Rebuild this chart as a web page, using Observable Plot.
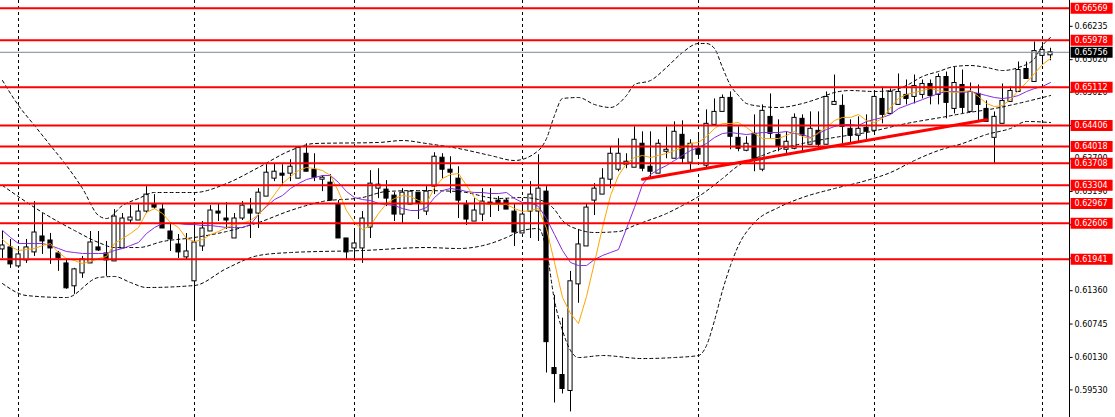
<!DOCTYPE html>
<html><head><meta charset="utf-8">
<script src="https://cdn.jsdelivr.net/npm/d3@7"></script>
<script src="https://cdn.jsdelivr.net/npm/@observablehq/plot@0.6"></script>
<style>html,body{margin:0;padding:0;background:#fff}#chart svg{display:block}</style>
</head><body><div id="chart"></div>
<script>
const opens = [0.62121,0.62158,0.61808,0.61919,0.62066,0.62360,0.62286,0.62047,0.61863,0.61441,0.61680,0.61863,0.62158,0.62047,0.61900,0.62139,0.62654,0.62654,0.62819,0.62948,0.62856,0.62452,0.62213,0.61974,0.61533,0.62176,0.62452,0.62819,0.62691,0.62323,0.62691,0.62856,0.62782,0.63095,0.63426,0.63518,0.63518,0.63426,0.63885,0.63591,0.63407,0.63352,0.62948,0.62323,0.62139,0.62139,0.62525,0.63242,0.63224,0.63113,0.62764,0.62948,0.63168,0.62819,0.63279,0.63812,0.63591,0.63426,0.62948,0.62635,0.62764,0.62985,0.63021,0.63021,0.62819,0.62415,0.62819,0.62819,0.63187,0.59934,0.59805,0.59511,0.61477,0.62176,0.63021,0.63132,0.63407,0.63591,0.63683,0.63628,0.64069,0.63646,0.63518,0.63922,0.63793,0.64234,0.63720,0.63977,0.63665,0.64418,0.64657,0.64915,0.64179,0.63940,0.64253,0.63591,0.64565,0.64234,0.63959,0.63977,0.64529,0.64051,0.64308,0.64051,0.64786,0.64768,0.64345,0.64216,0.64363,0.64308,0.64896,0.64620,0.64786,0.64970,0.64933,0.64970,0.65172,0.64970,0.65300,0.64712,0.65153,0.64657,0.64988,0.64712,0.64179,0.64437,0.64841,0.65025,0.65448,0.65209,0.65690,0.65700];
const highs = [0.62452,0.62305,0.62139,0.62305,0.63003,0.62782,0.62415,0.62084,0.61937,0.61772,0.61992,0.62452,0.62452,0.62268,0.62856,0.62782,0.62929,0.62948,0.63279,0.63132,0.62948,0.62580,0.62396,0.62415,0.62580,0.62635,0.62929,0.62966,0.62985,0.62782,0.63003,0.63058,0.63242,0.63683,0.63701,0.63683,0.63775,0.64014,0.64069,0.63885,0.63481,0.63499,0.63021,0.62323,0.62507,0.62819,0.63573,0.63609,0.63389,0.63168,0.63242,0.63205,0.63168,0.63279,0.63904,0.63885,0.63830,0.63646,0.63021,0.63058,0.63242,0.63242,0.63095,0.63058,0.62948,0.62966,0.63371,0.63867,0.63279,0.61275,0.60853,0.61716,0.62488,0.62966,0.63334,0.63609,0.64014,0.64161,0.63885,0.64381,0.64290,0.64290,0.64143,0.64381,0.64473,0.64492,0.64143,0.64234,0.64694,0.64896,0.64970,0.65025,0.64381,0.64198,0.64602,0.64786,0.64988,0.64510,0.64290,0.64620,0.64602,0.64657,0.64657,0.65025,0.65337,0.64970,0.64510,0.64565,0.64602,0.65025,0.65117,0.65080,0.65356,0.65245,0.65337,0.65245,0.65245,0.65356,0.65392,0.65484,0.65429,0.65190,0.65153,0.64860,0.64657,0.65172,0.65117,0.65576,0.65576,0.65944,0.65900,0.65830];
const lows = [0.61955,0.61772,0.61772,0.61863,0.61992,0.62029,0.61845,0.61716,0.61386,0.61294,0.61588,0.61863,0.62084,0.61624,0.61900,0.62139,0.62580,0.62654,0.62782,0.62856,0.62507,0.62084,0.61955,0.61937,0.60834,0.62084,0.62452,0.62635,0.62488,0.62323,0.62654,0.62323,0.62507,0.63095,0.63371,0.63279,0.63371,0.63426,0.63554,0.63371,0.63187,0.63021,0.62323,0.61919,0.61900,0.61863,0.62323,0.63058,0.62911,0.62635,0.62580,0.62948,0.62672,0.62746,0.63132,0.63426,0.63150,0.62691,0.62562,0.62635,0.62635,0.62709,0.62819,0.62856,0.62176,0.62415,0.62323,0.62268,0.59842,0.59290,0.59456,0.59125,0.61128,0.62176,0.62746,0.63132,0.63242,0.63554,0.63609,0.63628,0.63554,0.63426,0.63518,0.63793,0.63793,0.63701,0.63554,0.63793,0.63628,0.64418,0.64657,0.63959,0.63922,0.63922,0.63554,0.63554,0.64161,0.63922,0.63885,0.63959,0.63922,0.64051,0.63977,0.64051,0.64786,0.64069,0.64069,0.64106,0.64106,0.64253,0.64437,0.64620,0.64786,0.64786,0.64804,0.64896,0.64786,0.64786,0.64529,0.64620,0.64620,0.64657,0.64473,0.64473,0.63701,0.64437,0.64841,0.65025,0.65264,0.65209,0.65520,0.65600];
const closes = [0.62194,0.61845,0.62029,0.62158,0.62433,0.62268,0.62139,0.61955,0.61404,0.61753,0.61937,0.62249,0.62102,0.61919,0.62727,0.62691,0.62709,0.62819,0.63132,0.62893,0.62507,0.62305,0.62066,0.62084,0.62249,0.62507,0.62838,0.62782,0.62654,0.62691,0.62929,0.62782,0.63168,0.63536,0.63554,0.63481,0.63646,0.63996,0.63554,0.63444,0.63444,0.63021,0.62323,0.62066,0.62231,0.62691,0.63334,0.63315,0.63058,0.62764,0.63168,0.63187,0.62966,0.63187,0.63830,0.63591,0.63536,0.63021,0.62672,0.62838,0.63003,0.62948,0.62948,0.62856,0.62433,0.62764,0.63132,0.63242,0.60411,0.59823,0.59548,0.61533,0.62213,0.62893,0.63242,0.63426,0.63885,0.63885,0.63738,0.64143,0.63609,0.63554,0.64069,0.63959,0.64290,0.63793,0.64069,0.63867,0.64437,0.64657,0.64915,0.64198,0.63977,0.64069,0.63793,0.64676,0.64253,0.64014,0.64106,0.64547,0.64216,0.64345,0.64051,0.64933,0.64841,0.64381,0.64216,0.64345,0.64290,0.64933,0.64602,0.65025,0.65025,0.64896,0.65135,0.65172,0.64951,0.65300,0.64823,0.65190,0.64731,0.65025,0.64786,0.64473,0.64565,0.64859,0.65043,0.65429,0.65264,0.65778,0.65800,0.65756];

const maFast = [0.62304,0.62175,0.62101,0.62119,0.62138,0.62193,0.62230,0.62064,0.61953,0.61917,0.61861,0.61898,0.61953,0.61990,0.62230,0.62322,0.62414,0.62525,0.62802,0.62875,0.62783,0.62617,0.62525,0.62322,0.62267,0.62304,0.62396,0.62451,0.62525,0.62580,0.62599,0.62654,0.62765,0.62931,0.63134,0.63336,0.63466,0.63576,0.63632,0.63613,0.63576,0.63484,0.63189,0.62839,0.62617,0.62488,0.62562,0.62783,0.62968,0.63060,0.63115,0.63097,0.63023,0.62968,0.63263,0.63429,0.63502,0.63521,0.63300,0.63078,0.62968,0.62949,0.62949,0.62949,0.62875,0.62820,0.62839,0.62875,0.62507,0.61880,0.61234,0.60939,0.60755,0.61253,0.61880,0.62525,0.63115,0.63484,0.63705,0.63816,0.63853,0.63816,0.63853,0.63890,0.63945,0.64000,0.64074,0.64093,0.64203,0.64351,0.64443,0.64443,0.64461,0.64369,0.64258,0.64166,0.64166,0.64166,0.64222,0.64295,0.64203,0.64166,0.64277,0.64369,0.64498,0.64554,0.64554,0.64609,0.64498,0.64461,0.64535,0.64738,0.64904,0.64978,0.65015,0.65051,0.65088,0.65051,0.65033,0.65015,0.65033,0.65051,0.64941,0.64812,0.64756,0.64775,0.64885,0.65051,0.65199,0.65365,0.65531,0.65641];
const maSlow = [0.62470,0.62341,0.62230,0.62230,0.62230,0.62230,0.62193,0.62138,0.62083,0.62064,0.62046,0.62046,0.62046,0.62046,0.62101,0.62138,0.62193,0.62249,0.62414,0.62525,0.62599,0.62599,0.62599,0.62580,0.62580,0.62562,0.62562,0.62544,0.62525,0.62525,0.62525,0.62580,0.62765,0.62912,0.63041,0.63115,0.63244,0.63336,0.63410,0.63447,0.63484,0.63484,0.63355,0.63189,0.63078,0.63041,0.63023,0.62968,0.62949,0.62931,0.62875,0.62839,0.62839,0.62894,0.63078,0.63207,0.63244,0.63226,0.63189,0.63171,0.63171,0.63152,0.63152,0.63171,0.63060,0.62986,0.62986,0.62912,0.62691,0.62396,0.62101,0.61880,0.61824,0.61824,0.61935,0.62009,0.62064,0.62119,0.62507,0.62894,0.63318,0.63502,0.63595,0.63668,0.63761,0.63853,0.63945,0.64000,0.64074,0.64185,0.64258,0.64277,0.64258,0.64240,0.64258,0.64277,0.64277,0.64277,0.64295,0.64258,0.64240,0.64185,0.64258,0.64332,0.64388,0.64424,0.64424,0.64406,0.64480,0.64517,0.64554,0.64609,0.64719,0.64775,0.64830,0.64885,0.64941,0.64996,0.65033,0.65033,0.65015,0.65033,0.64996,0.64959,0.64922,0.64904,0.64922,0.64959,0.65033,0.65088,0.65125,0.65199];

const bbUpperIdx = [0,2,4,6,8,10,12,13,15,17,19,24,28,32,36,39,47,50,53,57,61,64,67,68,69,70,72,74,76,78,79,81,83,85,87,88,89,90,91,92,93,95,97,100,102,104,106,109,111,113,115,117,119,121,123,125,127,129,130,131];
const bbUpper = [0.65236,0.64775,0.64406,0.64037,0.63668,0.63244,0.62746,0.62691,0.62931,0.63060,0.63171,0.63171,0.63336,0.63632,0.63945,0.64074,0.64093,0.64129,0.64074,0.63982,0.63853,0.63761,0.63945,0.64166,0.64590,0.64904,0.64922,0.64793,0.64738,0.64959,0.65162,0.65236,0.65476,0.65752,0.65918,0.65918,0.65826,0.65476,0.65144,0.64959,0.64812,0.64756,0.64738,0.64812,0.64904,0.65015,0.65051,0.65033,0.65051,0.65144,0.65310,0.65402,0.65494,0.65512,0.65476,0.65420,0.65476,0.65641,0.65881,0.66029];
const bbMidIdx = [0,5,9,12,14,17,20,24,28,32,36,40,45,48,52,57,62,65,67,69,70,72,74,77,79,80,83,85,87,90,92,95,97,100,104,108,113,118,120,124,128,131];
const bbMid = [0.63300,0.62802,0.62470,0.62249,0.62156,0.62156,0.62267,0.62341,0.62451,0.62617,0.62839,0.63005,0.63078,0.63189,0.63207,0.63189,0.63060,0.63078,0.63041,0.62857,0.62654,0.62488,0.62433,0.62451,0.62562,0.62617,0.62783,0.62931,0.63097,0.63429,0.63668,0.63853,0.63963,0.64074,0.64185,0.64277,0.64443,0.64572,0.64627,0.64719,0.64849,0.64959];
const bbLowerIdx = [0,3,8,12,14,16,18,24,28,32,36,45,53,57,61,63,65,67,68,69,70,71,72,75,80,84,87,88,89,90,91,92,94,97,100,104,108,111,114,117,120,123,126,128,131];
const bbLower = [0.61492,0.61271,0.61234,0.61603,0.61622,0.61511,0.61419,0.61456,0.61769,0.62009,0.62064,0.62101,0.62156,0.62138,0.62230,0.62341,0.62470,0.62507,0.62101,0.61179,0.60626,0.60257,0.60128,0.60165,0.60109,0.60128,0.60165,0.60349,0.60810,0.61363,0.61824,0.62193,0.62617,0.62894,0.63078,0.63244,0.63392,0.63539,0.63761,0.63945,0.64074,0.64240,0.64351,0.64480,0.64461];

const levels = [0.66569,0.65978,0.65112,0.64406,0.64018,0.63708,0.63304,0.62967,0.62606,0.61941];
const currentPrice = 0.65756;
const axisTicks = [0.66235,0.65620,0.65020,0.64405,0.63790,0.63190,0.62575,0.61960,0.61360,0.60745,0.60130,0.59530];
const gridIdx = [2,24,44,65,87,109,130];
const trendIdx = [80,123];
const trendVal = [0.63416,0.64511];

const candles = opens.map((o,i)=>({i, o, h:highs[i], l:lows[i], c:closes[i], up: closes[i] >= o}));
const series = (idx, vals) => idx.map((i,k)=>({i, v: vals[k]}));
const fast = maFast.map((v,i)=>({i,v}));
const slow = maSlow.map((v,i)=>({i,v}));
const up = series(bbUpperIdx, bbUpper), mid = series(bbMidIdx, bbMid), low = series(bbLowerIdx, bbLower);
const trend = series(trendIdx, trendVal);

const X0 = -0.25, X1 = 133.375; // plot edges in bar units
const fmt = d => d.toFixed(5);
const dash = "3,3";

const chart = Plot.plot({
  width: 1115, height: 417,
  marginLeft: 0, marginRight: 46, marginTop: 0, marginBottom: 0,
  x: {domain: [X0, X1], axis: null},
  y: {domain: [0.59022, 0.66711], axis: null},
  style: {background: "#fff", fontFamily: "DejaVu Sans, sans-serif", overflow: "visible"},
  marks: [
    Plot.ruleX(gridIdx, {x: d => d, stroke: "#000", strokeDasharray: dash, strokeWidth: 1}),
    Plot.ruleX(candles, {x: "i", y1: "l", y2: "h", stroke: "#000", strokeWidth: 1}),
    Plot.rect(candles, {x1: d => d.i - 0.26, x2: d => d.i + 0.26, y1: "o", y2: "c", fill: d => d.up ? "#fff" : "#000", stroke: "#000", strokeWidth: 1}),
    Plot.line(up, {x: "i", y: "v", stroke: "#000", strokeDasharray: dash, strokeWidth: 1, curve: "monotone-x"}),
    Plot.line(mid, {x: "i", y: "v", stroke: "#000", strokeDasharray: dash, strokeWidth: 1, curve: "monotone-x"}),
    Plot.line(low, {x: "i", y: "v", stroke: "#000", strokeDasharray: dash, strokeWidth: 1, curve: "monotone-x"}),
    Plot.line(slow, {x: "i", y: "v", stroke: "#8A2BE2", strokeWidth: 1}),
    Plot.line(fast, {x: "i", y: "v", stroke: "#FFA500", strokeWidth: 1}),
    Plot.ruleY([currentPrice], {y: d => d, x1: X0, x2: X1, stroke: "#778899", strokeWidth: 1}),
    Plot.ruleY(levels, {y: d => d, x1: X0, x2: X1, stroke: "#FF0000", strokeWidth: 2}),
    Plot.line(trend, {x: "i", y: "v", stroke: "#FF0000", strokeWidth: 3}),
    // right price axis
    Plot.ruleX([X1], {stroke: "#000", strokeWidth: 1}),
    Plot.ruleY(axisTicks, {y: d => d, x1: X1, x2: X1 + 0.45, stroke: "#000"}),
    Plot.text(axisTicks, {x: X1, y: d => d, text: fmt, dx: 5, textAnchor: "start", fill: "#000", fontSize: 8}),
    Plot.ruleY(levels, {y: d => d, x1: X1 + 0.2, x2: X1 + 5.45, stroke: "#FF0000", strokeWidth: 11}),
    Plot.text(levels, {x: X1, y: d => d, text: fmt, dx: 5, textAnchor: "start", fill: "#fff", fontSize: 8}),
    Plot.ruleY([currentPrice], {y: d => d, x1: X1 + 0.2, x2: X1 + 5.45, stroke: "#000", strokeWidth: 11}),
    Plot.text([currentPrice], {x: X1, y: d => d, text: fmt, dx: 5, textAnchor: "start", fill: "#fff", fontSize: 8})
  ]
});
document.getElementById("chart").appendChild(chart);
</script></body></html>
